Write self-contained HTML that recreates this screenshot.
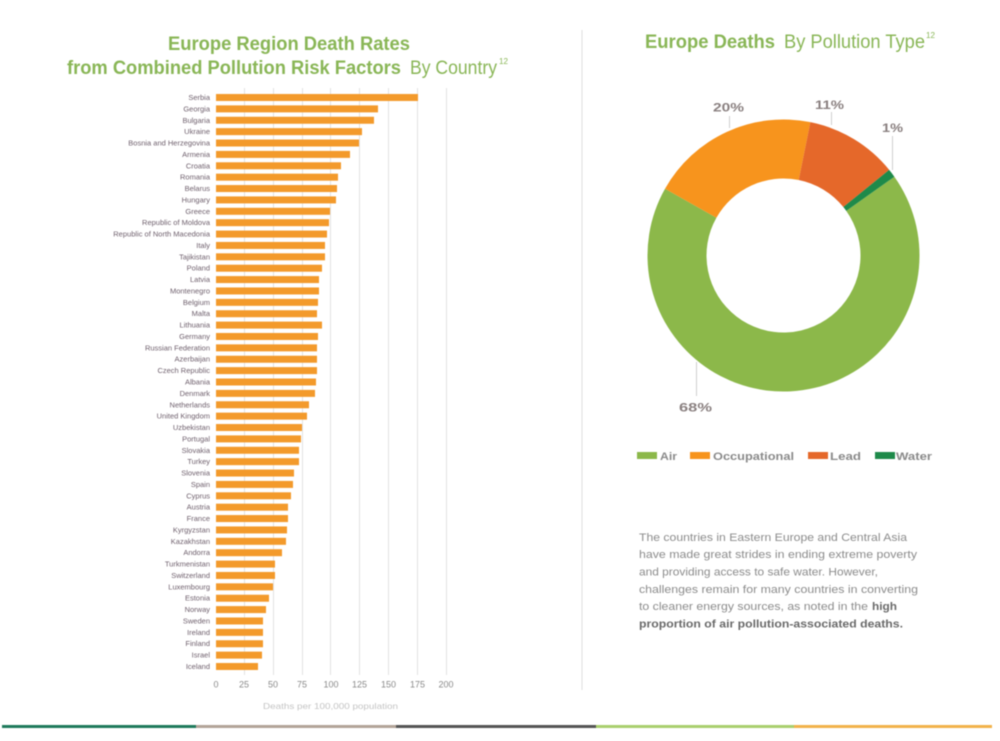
<!DOCTYPE html>
<html><head><meta charset="utf-8"><style>
html,body{margin:0;padding:0;background:#fff;}
svg{display:block;filter:blur(0.6px);}
.cl{font-family:"Liberation Sans",sans-serif;font-size:7.5px;fill:#6e5f6c;text-anchor:end;}
.tk{font-family:"Liberation Sans",sans-serif;font-size:9px;fill:#8a8a8a;text-anchor:middle;}
.pt{font-family:"Liberation Sans",sans-serif;font-size:11px;fill:#8c8c8c;}
.pb{font-family:"Liberation Sans",sans-serif;font-size:11px;fill:#6a6a6a;font-weight:bold;}
</style></head><body>
<svg width="1000" height="741" viewBox="0 0 1000 741" xmlns="http://www.w3.org/2000/svg">
<rect width="1000" height="741" fill="#fff"/>
<!-- Left title -->
<g font-family="Liberation Sans, sans-serif" fill="#89b656">
<text x="168" y="50" font-size="19" font-weight="bold" textLength="242" lengthAdjust="spacingAndGlyphs">Europe Region Death Rates</text>
<text x="67" y="74" font-size="19" font-weight="bold" textLength="334" lengthAdjust="spacingAndGlyphs">from Combined Pollution Risk Factors</text>
<text x="410" y="74" font-size="19" textLength="87" lengthAdjust="spacingAndGlyphs">By Country</text>
<text x="499" y="64" font-size="8" textLength="9" lengthAdjust="spacingAndGlyphs">12</text>
</g>
<!-- Right title -->
<g font-family="Liberation Sans, sans-serif" fill="#89b656">
<text x="645" y="48" font-size="19" font-weight="bold" textLength="130" lengthAdjust="spacingAndGlyphs">Europe Deaths</text>
<text x="784" y="48" font-size="19" textLength="141" lengthAdjust="spacingAndGlyphs">By Pollution Type</text>
<text x="926" y="38" font-size="8" textLength="9" lengthAdjust="spacingAndGlyphs">12</text>
</g>
<!-- separator -->
<line x1="582" y1="30" x2="582" y2="690" stroke="#dedede" stroke-width="1"/>
<!-- gridlines -->
<g stroke="#e2e2e2" stroke-width="1">
<line x1="244.5" y1="88" x2="244.5" y2="675"/>
<line x1="273.5" y1="88" x2="273.5" y2="675"/>
<line x1="302.5" y1="88" x2="302.5" y2="675"/>
<line x1="330.5" y1="88" x2="330.5" y2="675"/>
<line x1="359.5" y1="88" x2="359.5" y2="675"/>
<line x1="388.5" y1="88" x2="388.5" y2="675"/>
<line x1="417.5" y1="88" x2="417.5" y2="675"/>
<line x1="446.5" y1="88" x2="446.5" y2="675"/>
</g>
<!-- bars -->
<g fill="#f39a2b">
<rect x="216" y="94" width="202" height="7"/>
<rect x="216" y="105.38" width="162" height="7"/>
<rect x="216" y="116.76" width="158" height="7"/>
<rect x="216" y="128.14" width="146" height="7"/>
<rect x="216" y="139.52" width="143" height="7"/>
<rect x="216" y="150.9" width="134" height="7"/>
<rect x="216" y="162.28" width="125" height="7"/>
<rect x="216" y="173.66" width="122" height="7"/>
<rect x="216" y="185.04" width="121" height="7"/>
<rect x="216" y="196.42" width="120" height="7"/>
<rect x="216" y="207.8" width="114" height="7"/>
<rect x="216" y="219.18" width="113" height="7"/>
<rect x="216" y="230.56" width="111" height="7"/>
<rect x="216" y="241.94" width="109" height="7"/>
<rect x="216" y="253.32" width="109" height="7"/>
<rect x="216" y="264.7" width="106" height="7"/>
<rect x="216" y="276.08" width="103" height="7"/>
<rect x="216" y="287.46" width="103" height="7"/>
<rect x="216" y="298.84" width="102" height="7"/>
<rect x="216" y="310.22" width="101" height="7"/>
<rect x="216" y="321.6" width="106" height="7"/>
<rect x="216" y="332.98" width="102" height="7"/>
<rect x="216" y="344.36" width="101" height="7"/>
<rect x="216" y="355.74" width="101" height="7"/>
<rect x="216" y="367.12" width="101" height="7"/>
<rect x="216" y="378.5" width="100" height="7"/>
<rect x="216" y="389.88" width="99" height="7"/>
<rect x="216" y="401.26" width="93" height="7"/>
<rect x="216" y="412.64" width="91" height="7"/>
<rect x="216" y="424.02" width="86" height="7"/>
<rect x="216" y="435.4" width="85" height="7"/>
<rect x="216" y="446.78" width="83" height="7"/>
<rect x="216" y="458.16" width="83" height="7"/>
<rect x="216" y="469.54" width="78" height="7"/>
<rect x="216" y="480.92" width="77" height="7"/>
<rect x="216" y="492.3" width="75" height="7"/>
<rect x="216" y="503.68" width="72" height="7"/>
<rect x="216" y="515.06" width="72" height="7"/>
<rect x="216" y="526.44" width="71" height="7"/>
<rect x="216" y="537.82" width="70" height="7"/>
<rect x="216" y="549.2" width="66" height="7"/>
<rect x="216" y="560.58" width="59" height="7"/>
<rect x="216" y="571.96" width="59" height="7"/>
<rect x="216" y="583.34" width="57" height="7"/>
<rect x="216" y="594.72" width="53" height="7"/>
<rect x="216" y="606.1" width="50" height="7"/>
<rect x="216" y="617.48" width="47" height="7"/>
<rect x="216" y="628.86" width="47" height="7"/>
<rect x="216" y="640.24" width="47" height="7"/>
<rect x="216" y="651.62" width="46" height="7"/>
<rect x="216" y="663" width="42" height="7"/>
</g>
<!-- country labels -->
<g class="cl">
<text x="210" y="100">Serbia</text>
<text x="210" y="111.38">Georgia</text>
<text x="210" y="122.76">Bulgaria</text>
<text x="210" y="134.14">Ukraine</text>
<text x="210" y="145.52">Bosnia and Herzegovina</text>
<text x="210" y="156.9">Armenia</text>
<text x="210" y="168.28">Croatia</text>
<text x="210" y="179.66">Romania</text>
<text x="210" y="191.04">Belarus</text>
<text x="210" y="202.42">Hungary</text>
<text x="210" y="213.8">Greece</text>
<text x="210" y="225.18">Republic of Moldova</text>
<text x="210" y="236.56">Republic of North Macedonia</text>
<text x="210" y="247.94">Italy</text>
<text x="210" y="259.32">Tajikistan</text>
<text x="210" y="270.7">Poland</text>
<text x="210" y="282.08">Latvia</text>
<text x="210" y="293.46">Montenegro</text>
<text x="210" y="304.84">Belgium</text>
<text x="210" y="316.22">Malta</text>
<text x="210" y="327.6">Lithuania</text>
<text x="210" y="338.98">Germany</text>
<text x="210" y="350.36">Russian Federation</text>
<text x="210" y="361.74">Azerbaijan</text>
<text x="210" y="373.12">Czech Republic</text>
<text x="210" y="384.5">Albania</text>
<text x="210" y="395.88">Denmark</text>
<text x="210" y="407.26">Netherlands</text>
<text x="210" y="418.64">United Kingdom</text>
<text x="210" y="430.02">Uzbekistan</text>
<text x="210" y="441.4">Portugal</text>
<text x="210" y="452.78">Slovakia</text>
<text x="210" y="464.16">Turkey</text>
<text x="210" y="475.54">Slovenia</text>
<text x="210" y="486.92">Spain</text>
<text x="210" y="498.3">Cyprus</text>
<text x="210" y="509.68">Austria</text>
<text x="210" y="521.06">France</text>
<text x="210" y="532.44">Kyrgyzstan</text>
<text x="210" y="543.82">Kazakhstan</text>
<text x="210" y="555.2">Andorra</text>
<text x="210" y="566.58">Turkmenistan</text>
<text x="210" y="577.96">Switzerland</text>
<text x="210" y="589.34">Luxembourg</text>
<text x="210" y="600.72">Estonia</text>
<text x="210" y="612.1">Norway</text>
<text x="210" y="623.48">Sweden</text>
<text x="210" y="634.86">Ireland</text>
<text x="210" y="646.24">Finland</text>
<text x="210" y="657.62">Israel</text>
<text x="210" y="669">Iceland</text>
</g>
<!-- ticks -->
<g class="tk">
<text x="216" y="687.5">0</text>
<text x="244" y="687.5">25</text>
<text x="273" y="687.5">50</text>
<text x="302" y="687.5">75</text>
<text x="331" y="687.5">100</text>
<text x="359.5" y="687.5">125</text>
<text x="388.5" y="687.5">150</text>
<text x="417.5" y="687.5">175</text>
<text x="446" y="687.5">200</text>
</g>
<text x="263" y="709" font-family="Liberation Sans, sans-serif" font-size="8.5" fill="#c4c4c4" textLength="135" lengthAdjust="spacingAndGlyphs">Deaths per 100,000 population</text>
<!-- donut -->
<path d="M 894.35 176.72 A 136 136 0 1 1 665.02 188.74 L 716.42 217.70 A 77 77 0 1 0 846.26 210.89 Z" fill="#8cb84a"/>
<path d="M 665.02 188.74 A 136 136 0 0 1 810.39 122.18 L 798.72 180.02 A 77 77 0 0 0 716.42 217.70 Z" fill="#f7941d"/>
<path d="M 810.39 122.18 A 136 136 0 0 1 889.19 169.92 L 843.34 207.04 A 77 77 0 0 0 798.72 180.02 Z" fill="#e5682a"/>
<path d="M 889.19 169.92 A 136 136 0 0 1 894.35 176.72 L 846.26 210.89 A 77 77 0 0 0 843.34 207.04 Z" fill="#1e8a4a"/>
<!-- leaders -->
<g stroke="#cfcfcf" stroke-width="1">
<line x1="729.5" y1="116" x2="729.5" y2="128"/>
<line x1="831.5" y1="112" x2="831.5" y2="125"/>
<line x1="892.5" y1="136" x2="892.5" y2="170"/>
<line x1="696.5" y1="362" x2="696.5" y2="396"/>
</g>
<g font-family="Liberation Sans, sans-serif" font-size="12" font-weight="bold" fill="#8a8080">
<text x="713" y="111.5" textLength="31" lengthAdjust="spacingAndGlyphs">20%</text>
<text x="815" y="109" textLength="29" lengthAdjust="spacingAndGlyphs">11%</text>
<text x="882" y="132" textLength="21" lengthAdjust="spacingAndGlyphs">1%</text>
<text x="679" y="411.5" textLength="33" lengthAdjust="spacingAndGlyphs">68%</text>
</g>
<!-- legend -->
<rect x="637" y="452" width="20" height="7" fill="#8cb84a"/>
<rect x="690" y="452" width="20" height="7" fill="#f7941d"/>
<rect x="808" y="452" width="20" height="7" fill="#e5682a"/>
<rect x="875" y="452" width="20" height="7" fill="#1e8a4a"/>
<g font-family="Liberation Sans, sans-serif" font-size="11" font-weight="bold" fill="#8a8a8a">
<text x="660" y="460" textLength="17" lengthAdjust="spacingAndGlyphs">Air</text>
<text x="713" y="460" textLength="81" lengthAdjust="spacingAndGlyphs">Occupational</text>
<text x="830" y="460" textLength="31" lengthAdjust="spacingAndGlyphs">Lead</text>
<text x="896" y="460" textLength="36" lengthAdjust="spacingAndGlyphs">Water</text>
</g>
<!-- paragraph -->
<text class="pt" x="639" y="541" textLength="268" lengthAdjust="spacingAndGlyphs">The countries in Eastern Europe and Central Asia</text>
<text class="pt" x="639" y="558" textLength="278" lengthAdjust="spacingAndGlyphs">have made great strides in ending extreme poverty</text>
<text class="pt" x="639" y="575.5" textLength="239" lengthAdjust="spacingAndGlyphs">and providing access to safe water. However,</text>
<text class="pt" x="639" y="593" textLength="279" lengthAdjust="spacingAndGlyphs">challenges remain for many countries in converting</text>
<text class="pt" x="639" y="610" textLength="229" lengthAdjust="spacingAndGlyphs">to cleaner energy sources, as noted in the</text>
<text class="pb" x="872" y="610" textLength="25" lengthAdjust="spacingAndGlyphs">high</text>
<text class="pb" x="639" y="627.5" textLength="264" lengthAdjust="spacingAndGlyphs">proportion of air pollution-associated deaths.</text>
<!-- bottom bar -->
<rect x="2" y="725" width="194" height="3" fill="#1f7a5c"/>
<rect x="196" y="725" width="200" height="3" fill="#b3a498"/>
<rect x="396" y="725" width="200" height="3" fill="#555"/>
<rect x="596" y="725" width="198" height="3" fill="#a9cf6e"/>
<rect x="794" y="725" width="198" height="3" fill="#f2b24a"/>
</svg>
</body></html>
